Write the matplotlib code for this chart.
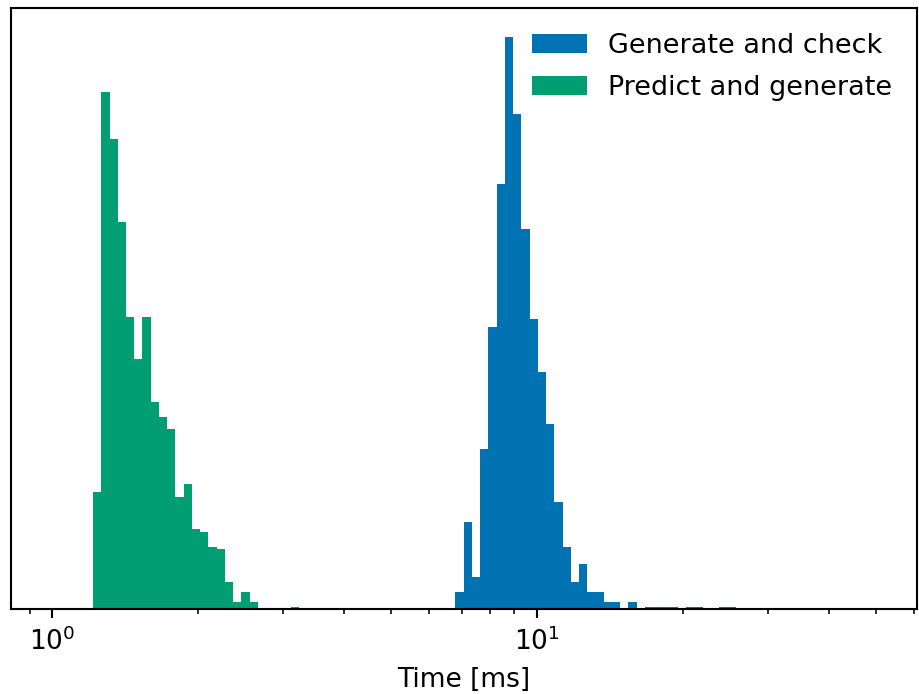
import numpy as np
import matplotlib
matplotlib.use("Agg")
import matplotlib.pyplot as plt

# Log-spaced histogram bins (1 ms .. 50 ms, 100 bins)
bin_edges = np.logspace(0, np.log10(50), 101)

# "Generate and check" counts, starting at bin index 49
gen_check_first_bin = 49
gen_check_counts = [7, 35, 13, 64, 113, 170, 229, 198, 152, 116, 95, 74, 43, 25, 11,
                    18, 7, 7, 3, 3, 0, 3, 0, 1, 1, 1, 1, 0, 1, 1, 0, 0, 1, 1]

# "Predict and generate" counts, starting at bin index 5
predict_first_bin = 5
predict_counts = [47, 207, 188, 155, 117, 100, 117, 83, 77, 72, 45, 50, 32, 31, 25,
                  24, 11, 3, 7, 3, 0, 0, 0, 0, 1]

labels = ["Generate and check", "Predict and generate"]
colors = ["#0173b2", "#029e73"]


def full_counts(first, counts):
    arr = np.zeros(len(bin_edges) - 1)
    arr[first:first + len(counts)] = counts
    return arr


W, H, DPI = 919, 694, 190
fig = plt.figure(figsize=(W / DPI, H / DPI), dpi=DPI)
ax = fig.add_axes([10.7 / W, 1 - 609 / H, (916.7 - 10.7) / W, (609 - 8.3) / H])

ax.hist(bin_edges[:-1], bins=bin_edges,
        weights=full_counts(gen_check_first_bin, gen_check_counts),
        color=colors[0], label=labels[0])
ax.hist(bin_edges[:-1], bins=bin_edges,
        weights=full_counts(predict_first_bin, predict_counts),
        color=colors[1], label=labels[1])

ax.set_xscale("log")
ax.set_yticks([])
ax.set_xlabel("Time [ms]")
ax.legend(loc="upper right", frameon=False, fontsize=10.25, labelspacing=0.62)

fig.savefig("out.png", dpi=DPI)
